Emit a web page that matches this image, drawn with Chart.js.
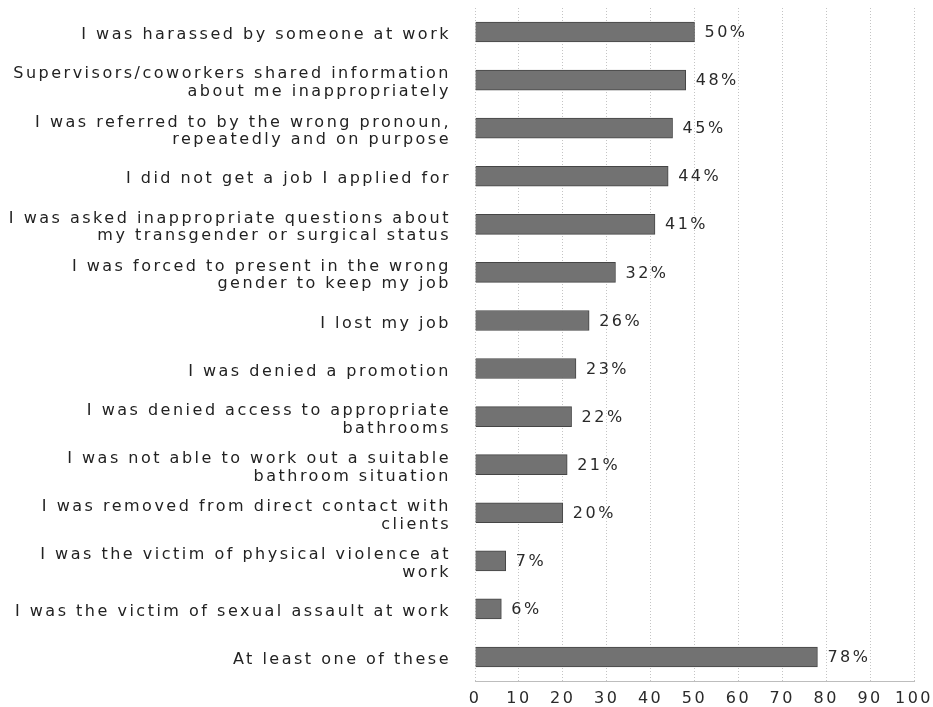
<!DOCTYPE html>
<html>
<head>
<meta charset="utf-8">
<script src="https://cdn.jsdelivr.net/npm/chart.js@4/dist/chart.umd.min.js"></script>
<style>
  html, body { margin: 0; padding: 0; background: #fff; }
  #wrap { width: 933px; height: 707px; }
</style>
</head>
<body>
<div id="wrap"><canvas id="workChart" width="933" height="707"></canvas></div>
<script>
// categorias (rótulos em várias linhas onde o original quebra)
const categorias = [
    'I was harassed by someone at work',
    ['Supervisors/coworkers shared information', 'about me inappropriately'],
    ['I was referred to by the wrong pronoun,', 'repeatedly and on purpose'],
    'I did not get a job I applied for',
    ['I was asked inappropriate questions about', 'my transgender or surgical status'],
    ['I was forced to present in the wrong', 'gender to keep my job'],
    'I lost my job',
    'I was denied a promotion',
    ['I was denied access to appropriate', 'bathrooms'],
    ['I was not able to work out a suitable', 'bathroom situation'],
    ['I was removed from direct contact with', 'clients'],
    ['I was the victim of physical violence at', 'work'],
    'I was the victim of sexual assault at work',
    'At least one of these'
];
const percentuais = [50, 48, 45, 44, 41, 32, 26, 23, 22, 21, 20, 7, 6, 78];
const ticksX = [0, 10, 20, 30, 40, 50, 60, 70, 80, 90, 100];

const fonte = 'DejaVu Sans, Verdana, sans-serif';
const espaco = '2.5px'; // o texto do original é bem espaçado

// espaçamento entre letras em todo o canvas
const espacamento = {
    id: 'espacamento',
    beforeUpdate(chart) { chart.ctx.letterSpacing = espaco; },
    beforeDraw(chart) { chart.ctx.letterSpacing = espaco; }
};

// escreve "NN%" depois de cada barra
const rotulosValor = {
    id: 'rotulosValor',
    afterDatasetsDraw(chart) {
        const ctx = chart.ctx;
        const meta = chart.getDatasetMeta(0);
        ctx.save();
        ctx.letterSpacing = espaco;
        ctx.font = '16px ' + fonte;
        ctx.fillStyle = '#2a2a2a';
        ctx.textBaseline = 'middle';
        ctx.textAlign = 'left';
        meta.data.forEach((bar, i) => {
            ctx.fillText(percentuais[i] + '%', bar.x + 10, bar.y + 1);
        });
        ctx.restore();
    }
};

const ctx = document.getElementById('workChart').getContext('2d');
new Chart(ctx, {
    type: 'bar',
    data: {
        labels: categorias,
        datasets: [{
            data: percentuais,
            backgroundColor: '#727272',
            borderColor: '#454545',
            borderWidth: 1,
            barThickness: 20
        }]
    },
    options: {
        indexAxis: 'y',
        responsive: false,
        animation: false,
        layout: { padding: { top: 8, right: 19, bottom: 0, left: 0 } },
        plugins: {
            legend: { display: false },
            tooltip: { enabled: false }
        },
        scales: {
            x: {
                min: 0,
                max: 100,
                afterBuildTicks: s => { s.ticks = ticksX.map(v => ({ value: v })); },
                afterFit: s => { s.height = 26; s.paddingLeft = 0; s.paddingRight = 0; },
                border: { display: true, color: '#bdbdbd', dash: [1, 2] },
                grid: { color: '#c4c4c4', drawTicks: false, tickBorderDash: [1, 2] },
                ticks: {
                    padding: 8,
                    maxRotation: 0,
                    minRotation: 0,
                    autoSkip: false,
                    color: '#2a2a2a',
                    font: { family: fonte, size: 16 }
                }
            },
            y: {
                afterFit: s => { s.width = 475; s.paddingTop = 0; s.paddingBottom = 0; },
                border: { display: false },
                grid: { display: false },
                ticks: {
                    padding: 16,
                    labelOffset: 3,
                    color: '#222',
                    font: { family: fonte, size: 16, lineHeight: 1.1 }
                }
            }
        }
    },
    plugins: [espacamento, rotulosValor]
});
</script>
</body>
</html>
